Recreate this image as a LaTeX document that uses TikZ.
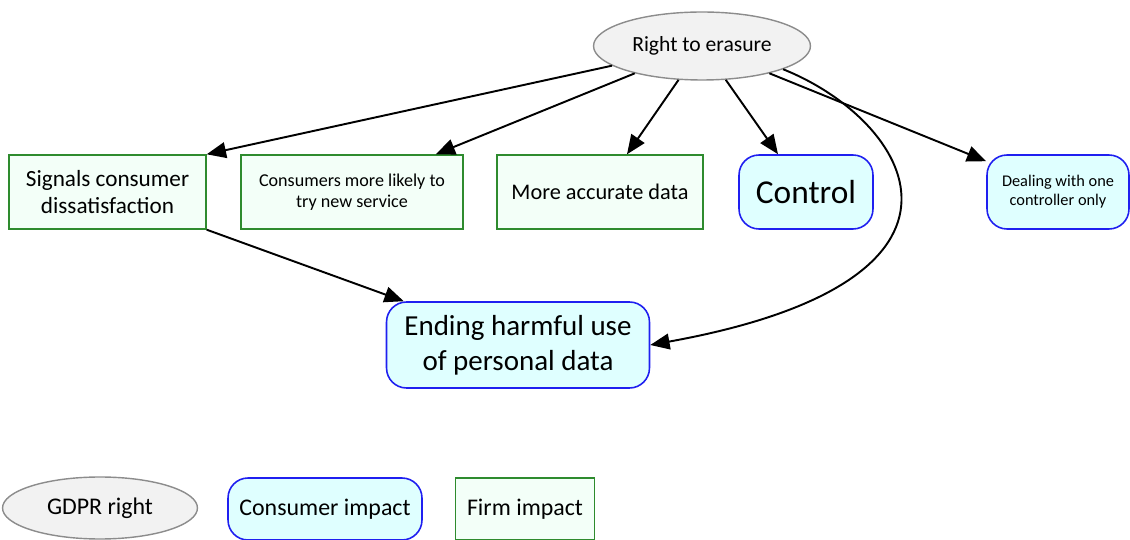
\documentclass[tikz,border=0pt]{standalone}
\usepackage{fontspec}
\setmainfont{Carlito}
\usepackage{tikz}
\usetikzlibrary{shapes.geometric, arrows.meta}
\definecolor{gdprgray}{HTML}{F2F2F2}
\definecolor{gdprline}{HTML}{8C8C8C}
\definecolor{consfill}{HTML}{DFFFFF}
\definecolor{consline}{HTML}{1F1FF0}
\definecolor{firmfill}{HTML}{F3FFF8}
\definecolor{firmline}{HTML}{2E8B2E}

\begin{document}
\begin{tikzpicture}[
			x=0.02cm, y=-0.02cm,
			gdpr/.style={ellipse, draw=gdprline, fill=gdprgray, line width=0.8pt,
				inner sep=0pt, align=center},
			consumer/.style={draw=consline, fill=consfill, rounded corners=0.4cm,
				line width=0.9pt, inner sep=0pt, minimum height=1.48cm, align=center},
			firm/.style={draw=firmline, fill=firmfill, line width=0.8pt,
				inner sep=0pt, minimum height=1.48cm, align=center},
			link/.style={-{Triangle[length=11pt, width=9pt]}, line width=1.1pt, black}
			]
			\useasboundingbox (0,0) rectangle (1130,540);

			\node[gdpr, minimum width=4.34cm, minimum height=1.36cm, font=\fontsize{12.3}{14}\selectfont] (rte) at (702,46) {Right to erasure};

			\node[firm, minimum width=3.94cm, font=\fontsize{13.2}{15.3}\selectfont] (sig) at (107.5,192) {Signals consumer\\dissatisfaction};
			\node[firm, minimum width=4.44cm, font=\fontsize{10.3}{11.9}\selectfont] (try) at (352,192) {Consumers more likely to\\try new service};
			\node[firm, minimum width=4.12cm, font=\fontsize{12.7}{15}\selectfont] (acc) at (600,192) {More accurate data};
			\node[consumer, minimum width=2.68cm, font=\fontsize{19}{22}\selectfont] (ctl) at (806,192) {Control};
			\node[consumer, minimum width=2.84cm, font=\fontsize{9.3}{10.8}\selectfont] (one) at (1058,192) {Dealing with one\\controller only};

			\node[consumer, minimum width=5.26cm, minimum height=1.72cm, font=\fontsize{16.5}{19.8}\selectfont] (end) at (518,345) {Ending harmful use\\of personal data};

			% legend
			\node[gdpr, minimum width=3.9cm, minimum height=1.24cm, font=\fontsize{13.6}{16}\selectfont] (lgdpr) at (100,508) {GDPR right};
			\node[consumer, minimum width=3.88cm, minimum height=1.24cm, font=\fontsize{13.6}{16}\selectfont] (lcons) at (325,509) {Consumer impact};
			\node[firm, minimum width=2.78cm, minimum height=1.24cm, font=\fontsize{13.6}{16}\selectfont] (lfirm) at (525,509) {Firm impact};

			\draw[link] (rte) -- (sig.north east);
			\draw[link] (rte) -- ([xshift=-0.56cm]try.north east);
			\draw[link] (rte) -- ([xshift=0.54cm]acc.north);
			\draw[link] (rte) -- ([xshift=-0.56cm]ctl.north);
			\draw[link] (rte) -- ([yshift=-0.14cm]one.north west);
			\draw[link] (rte.-16) .. controls (910,120) and (1010,280) .. (end.east);
			\draw[link] (sig.south east) -- ([xshift=0.36cm]end.north west);

		\end{tikzpicture}
\end{document}
